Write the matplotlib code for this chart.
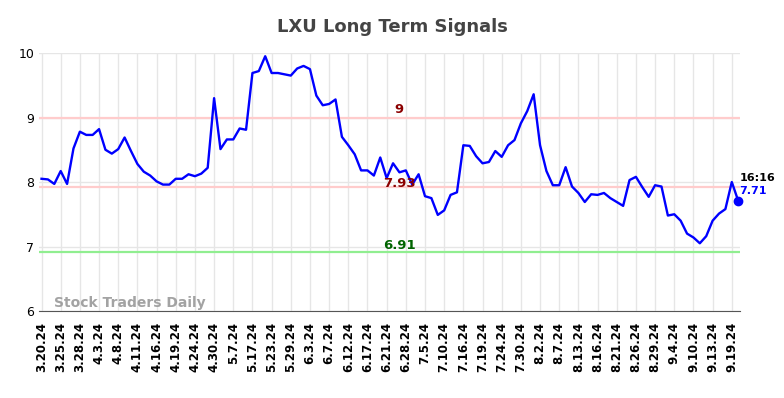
import matplotlib
matplotlib.use("Agg")
import matplotlib.pyplot as plt

prices = [
    8.05, 8.04, 7.97, 8.17, 7.97, 8.52, 8.78, 8.73, 8.73, 8.82,
    8.50, 8.44, 8.51, 8.69, 8.48, 8.28, 8.16, 8.10, 8.01, 7.96,
    7.96, 8.05, 8.05, 8.12, 8.09, 8.13, 8.22, 9.30, 8.51, 8.66,
    8.66, 8.83, 8.81, 9.69, 9.72, 9.95, 9.69, 9.69, 9.67, 9.65,
    9.76, 9.80, 9.75, 9.34, 9.19, 9.21, 9.28, 8.70, 8.57, 8.43,
    8.18, 8.18, 8.10, 8.38, 8.06, 8.29, 8.15, 8.18, 7.96, 8.12,
    7.78, 7.75, 7.49, 7.56, 7.80, 7.84, 8.57, 8.56, 8.40, 8.29,
    8.31, 8.48, 8.39, 8.57, 8.65, 8.91, 9.10, 9.36, 8.57, 8.17,
    7.95, 7.95, 8.23, 7.93, 7.83, 7.69, 7.81, 7.80, 7.83, 7.75,
    7.69, 7.63, 8.03, 8.08, 7.92, 7.77, 7.95, 7.93, 7.48, 7.50,
    7.40, 7.20, 7.14, 7.05, 7.16, 7.40, 7.51, 7.58, 8.00, 7.71,
]
tick_labels = [
    "3.20.24", "3.25.24", "3.28.24", "4.3.24", "4.8.24", "4.11.24", "4.16.24",
    "4.19.24", "4.24.24", "4.30.24", "5.7.24", "5.17.24", "5.23.24", "5.29.24",
    "6.3.24", "6.7.24", "6.12.24", "6.17.24", "6.21.24", "6.28.24", "7.5.24",
    "7.10.24", "7.16.24", "7.19.24", "7.24.24", "7.30.24", "8.2.24", "8.7.24",
    "8.13.24", "8.16.24", "8.21.24", "8.26.24", "8.29.24", "9.4.24", "9.10.24",
    "9.13.24", "9.19.24",
]
upper_level = 9
mid_level = 7.93
lower_level = 6.91
last_time = "16:16"

fig = plt.figure(figsize=(7.84, 3.98), dpi=100)
ax = fig.add_axes([0.0497, 0.2186, 0.8943, 0.6482])

x = list(range(len(prices)))
ax.axhline(upper_level, color="#ffcccc", lw=1.6, zorder=1)
ax.axhline(mid_level, color="#ffcccc", lw=1.6, zorder=1)
ax.axhline(lower_level, color="#90ee90", lw=1.6, zorder=1)
ax.plot(x, prices, color="blue", lw=1.7, zorder=3)
ax.plot(x[-1], prices[-1], "o", color="blue", ms=6, zorder=4, clip_on=False)

ax.set_xlim(-0.4, 109.3)
ax.set_ylim(6, 10)
ax.set_yticks([6, 7, 8, 9, 10])
ax.set_xticks(range(0, 3 * len(tick_labels), 3))
ax.set_xticklabels(tick_labels, rotation=90, fontweight="bold", fontsize=8.5)
ax.tick_params(axis="both", length=0, labelsize=9)
ax.tick_params(axis="x", labelsize=8.5, pad=8)
ax.grid(True, color="#e6e6e6", lw=1)
ax.set_axisbelow(True)
for side in ("top", "left", "right"):
    ax.spines[side].set_visible(False)
ax.spines["bottom"].set_color("#555555")

mid_x = 56
ax.text(mid_x, upper_level + 0.12, "9", color="darkred", fontweight="bold",
        fontsize=9.5, ha="center", va="center")
ax.text(mid_x, mid_level + 0.04, "7.93", color="darkred", fontweight="bold",
        fontsize=9.5, ha="center", va="center")
ax.text(mid_x, lower_level + 0.11, "6.91", color="darkgreen", fontweight="bold",
        fontsize=9.5, ha="center", va="center")
ax.text(x[-1] + 0.2, prices[-1] + 0.35, last_time, color="black",
        fontweight="bold", fontsize=8, ha="left", va="center")
ax.text(x[-1] + 0.2, prices[-1] + 0.15, f"{prices[-1]:.2f}", color="blue",
        fontweight="bold", fontsize=8, ha="left", va="center")
ax.text(2, 6.13, "Stock Traders Daily", color="#999999", fontweight="bold",
        fontsize=10, ha="left", va="center", alpha=0.9)

fig.suptitle("LXU Long Term Signals", fontsize=13, fontweight="bold",
             color="#444444", y=0.955)

fig.savefig("out.png", dpi=100)
